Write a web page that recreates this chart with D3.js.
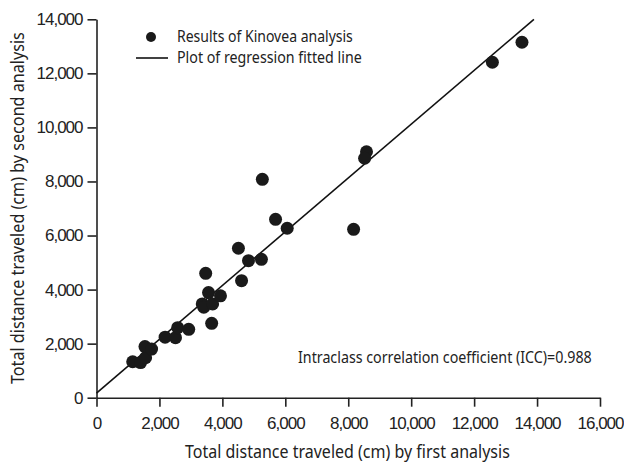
<!DOCTYPE html>
<html>
<head>
<meta charset="utf-8">
<script src="https://cdn.jsdelivr.net/npm/d3@7"></script>
<style>
  body { margin: 0; background: #fff; }
  svg { font-family: "Noto Sans", sans-serif; }
  .axis path, .axis line { stroke: #222; stroke-width: 1.6px; }
  .axis text { font-size: 17px; fill: #222; letter-spacing: -1px; }
</style>
</head>
<body>
<svg id="chart" width="624" height="463"></svg>
<script>
// distances (cm)
const firstAnalysis  = [1150, 1400, 1560, 1540, 1750, 2180, 2510, 2580, 2930, 3360, 3410, 3470, 3560, 3690, 3940, 3660, 4510, 4610, 4830, 5240, 5270, 5690, 6060, 8580, 8520, 8170, 12580, 13520];
const secondAnalysis = [1330, 1300, 1480, 1890, 1800, 2240, 2220, 2590, 2530, 3470, 3350, 4600, 3890, 3470, 3770, 2750, 5530, 4330, 5070, 5120, 8080, 6600, 6270, 9100, 8860, 6230, 12410, 13150];
const xTicks = [0, 2000, 4000, 6000, 8000, 10000, 12000, 14000, 16000];
const yTicks = [0, 2000, 4000, 6000, 8000, 10000, 12000, 14000];
const regLine = [[0, 170], [13900, 14000]];
const legendLabels = ["Results of Kinovea analysis", "Plot of regression fitted line"];
const iccLabel = "Intraclass correlation coefficient (ICC)=0.988";

const svg = d3.select("#chart");
const x = d3.scaleLinear().domain([0, 16000]).range([96.5, 600]);
const y = d3.scaleLinear().domain([0, 14000]).range([397.7, 19.3]);

svg.append("g").attr("class", "axis")
  .attr("transform", "translate(0,397.7)")
  .call(d3.axisBottom(x).tickValues(xTicks).tickFormat(d3.format(",")).tickSize(9).tickSizeOuter(0).tickPadding(10));

svg.append("g").attr("class", "axis")
  .attr("transform", "translate(96.5,0)")
  .call(d3.axisLeft(y).tickValues(yTicks).tickFormat(d3.format(",")).tickSize(9).tickSizeOuter(0).tickPadding(5));

svg.append("path")
  .attr("d", d3.line().x(d => x(d[0])).y(d => y(d[1]))(regLine))
  .attr("stroke", "#111").attr("stroke-width", 1.6).attr("fill", "none");

svg.selectAll("circle.pt")
  .data(firstAnalysis.map((v, i) => [v, secondAnalysis[i]]))
  .join("circle")
  .attr("class", "pt")
  .attr("cx", d => x(d[0]))
  .attr("cy", d => y(d[1]))
  .attr("r", 6.5)
  .attr("fill", "#1a1a1a");

// the original font is condensed: squeeze text horizontally to a target width
function narrowText(px, py, width, size, str, rot) {
  const g = svg.append("g").attr("transform", `translate(${px},${py})` + (rot ? " rotate(-90)" : ""));
  const t = g.append("text").attr("font-size", size).attr("fill", "#222").text(str);
  const w = t.node().getComputedTextLength();
  t.attr("transform", `scale(${width / w},1)`);
  return t;
}

// legend
svg.append("circle").attr("cx", 151).attr("cy", 37).attr("r", 5).attr("fill", "#1a1a1a");
svg.append("line").attr("x1", 136).attr("x2", 168).attr("y1", 58).attr("y2", 58)
  .attr("stroke", "#111").attr("stroke-width", 1.6);
narrowText(177, 42, 176, 16, legendLabels[0]);
narrowText(177, 63, 185, 16, legendLabels[1]);

narrowText(298, 363, 294, 16, iccLabel);
narrowText(185, 458, 325, 19, "Total distance traveled (cm) by first analysis");
narrowText(24, 384, 352, 19, "Total distance traveled (cm) by second analysis", true);
</script>
</body>
</html>
